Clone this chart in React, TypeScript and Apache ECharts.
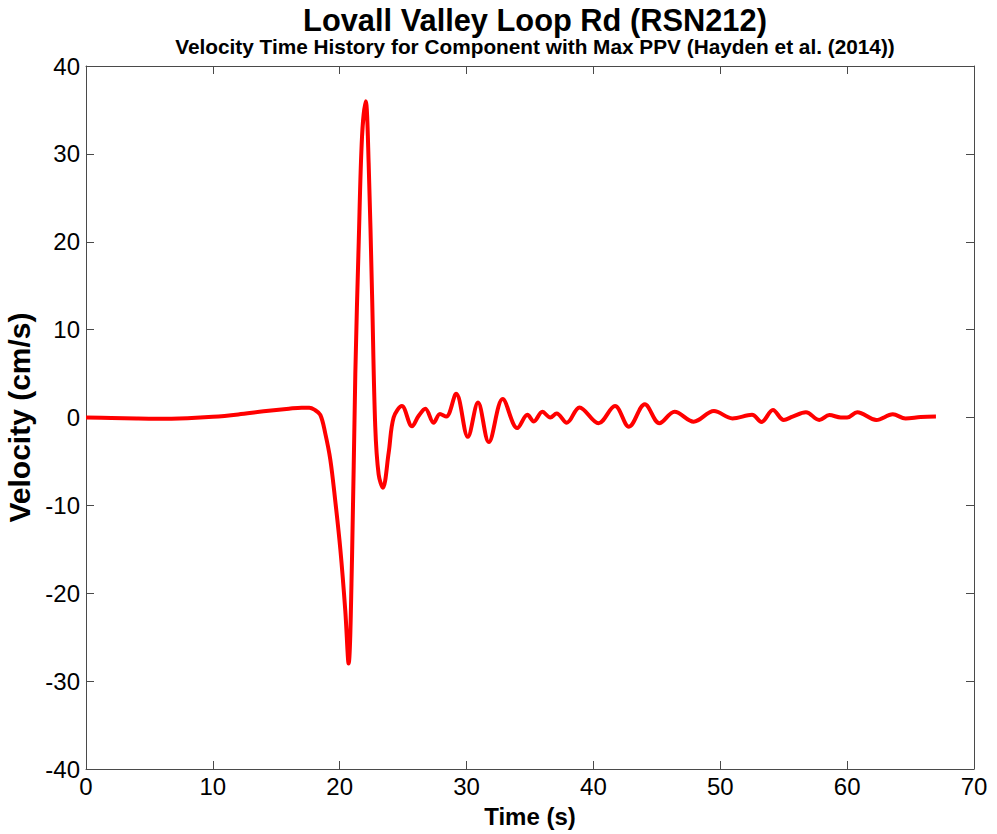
import React, { useEffect, useRef } from "react";
import * as echarts from "echarts";

const timeS: number[] = [
  0, 2, 4, 5.6, 8, 10, 12, 14, 16, 17, 17.6, 18.0, 18.47, 18.86, 19.26, 19.65,
  20.05, 20.44, 20.7, 20.97, 21.23, 21.5, 21.76, 22.05, 22.28, 22.55, 22.8,
  23.07, 23.4, 23.86, 24.25, 24.9, 25.7, 26.2, 26.75, 27.4, 27.9, 28.4, 29.18,
  30.1, 30.9, 31.75, 32.85, 34.0, 34.8, 35.3, 35.97, 36.6, 37.1, 37.9, 38.9,
  40.4, 41.7, 42.8, 44.05, 45.2, 46.4, 47.9, 49.5, 50.96, 52.5, 53.25, 54.15,
  55.0, 55.7, 56.75, 57.8, 58.6, 59.5, 60.0, 60.8, 62.3, 63.6, 64.6, 65.8, 67.0,
];

const velocity: number[] = [
  0, -0.05, -0.12, -0.15, -0.08, 0.08, 0.35, 0.7, 1.0, 1.12, 1.12, 0.9, 0.3,
  -1.8, -4.8, -9.5, -15, -22, -28, -16, 5, 20, 32, 36, 29, 14, -1, -6.5, -8, -4,
  0, 1.3, -1.0, 0.15, 1.0, -0.6, 0.4, 0.1, 2.7, -2.2, 1.7, -2.8, 2.1, -1.2, 0.3,
  -0.45, 0.65, 0.0, 0.45, -0.6, 1.15, -0.65, 1.3, -1.05, 1.5, -0.65, 0.66,
  -0.47, 0.74, -0.1, 0.3, -0.5, 0.85, -0.28, 0.1, 0.6, -0.28, 0.28, 0.0, 0.0,
  0.6, -0.28, 0.36, -0.1, 0.05, 0.1,
];

const titleText = "Lovall Valley Loop Rd (RSN212)";
const subtitleText =
  "Velocity Time History for Component with Max PPV (Hayden et al. (2014))";
const xName = "Time (s)";
const yName = "Velocity (cm/s)";

const FONT = "'Liberation Sans', Arial, Helvetica, sans-serif";
const AXIS_COLOR = "#4a4a4a";

export default function App() {
  const ref = useRef<HTMLDivElement>(null);

  useEffect(() => {
    if (!ref.current) return;
    const chart = echarts.init(ref.current, undefined, { renderer: "svg" });
    const data = timeS.map((t, i) => [t, velocity[i]]);

    const baseAxisLine = { show: true, onZero: false, lineStyle: { color: AXIS_COLOR, width: 1 } };
    const tick = { show: true, inside: true, length: 8, lineStyle: { color: AXIS_COLOR, width: 1 } };

    chart.setOption({
      animation: false,
      backgroundColor: "#ffffff",
      title: [
        {
          text: titleText,
          left: 530,
          top: 0,
          textAlign: "center",
          textStyle: { fontFamily: FONT, fontSize: 30.8, fontWeight: "bold", color: "#000" },
        },
        {
          text: subtitleText,
          left: 530,
          top: 31,
          textAlign: "center",
          textStyle: { fontFamily: FONT, fontSize: 20.8, fontWeight: "bold", color: "#000" },
        },
      ],
      grid: {
        left: 86,
        right: 23,
        top: 66,
        bottom: 65,
        containLabel: false,
        outerBoundsMode: "none",
      },
      xAxis: [
        {
          type: "value",
          min: 0,
          max: 70,
          interval: 10,
          position: "bottom",
          name: xName,
          nameLocation: "middle",
          nameGap: 35,
          nameTextStyle: { fontFamily: FONT, fontSize: 24, fontWeight: "bold", color: "#000" },
          axisLine: baseAxisLine,
          axisTick: tick,
          axisLabel: { fontFamily: FONT, fontSize: 24, color: "#000", margin: 5 },
          splitLine: { show: false },
        },
        {
          type: "value",
          min: 0,
          max: 70,
          interval: 10,
          position: "top",
          axisLine: baseAxisLine,
          axisTick: tick,
          axisLabel: { show: false },
          splitLine: { show: false },
        },
      ],
      yAxis: [
        {
          type: "value",
          min: -40,
          max: 40,
          interval: 10,
          position: "left",
          name: yName,
          nameLocation: "middle",
          nameGap: 45,
          nameTextStyle: { fontFamily: FONT, fontSize: 30, fontWeight: "bold", color: "#000" },
          axisLine: baseAxisLine,
          axisTick: tick,
          axisLabel: { fontFamily: FONT, fontSize: 24, color: "#000", margin: 6 },
          splitLine: { show: false },
        },
        {
          type: "value",
          min: -40,
          max: 40,
          interval: 10,
          position: "right",
          axisLine: baseAxisLine,
          axisTick: tick,
          axisLabel: { show: false },
          splitLine: { show: false },
        },
      ],
      series: [
        {
          type: "line",
          data,
          xAxisIndex: 0,
          yAxisIndex: 0,
          smooth: 0.35,
          showSymbol: false,
          symbol: "none",
          lineStyle: { color: "#ff0000", width: 4 },
        },
      ],
    });

    return () => chart.dispose();
  }, []);

  return (
    <div
      ref={ref}
      style={{ position: "fixed", left: 0, top: 0, width: 997, height: 834, background: "#fff" }}
    />
  );
}
